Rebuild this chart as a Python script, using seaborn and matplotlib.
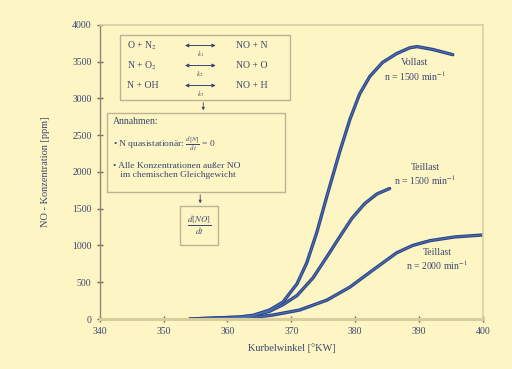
import numpy as np
import matplotlib
matplotlib.use("Agg")
import matplotlib.pyplot as plt
import pandas as pd
import seaborn as sns
from matplotlib.patches import Rectangle

# curves: crank angle [°KW] -> NO [ppm]
vollast_x = [354.1, 361.9, 364.0, 366.6, 368.7, 370.9, 372.4, 374.0, 375.6, 377.6, 379.2,
             380.7, 382.3, 384.3, 386.5, 388.6, 389.7, 392.2, 395.3]
vollast_y = [0, 27, 50, 122, 231, 480, 760, 1180, 1680, 2280, 2720,
             3060, 3300, 3490, 3610, 3690, 3705, 3665, 3595]

teil1500_x = [354.1, 361.9, 364.0, 366.6, 368.7, 370.9, 373.4, 375.6, 377.6, 379.5, 381.5,
              383.4, 385.4]
teil1500_y = [0, 25, 45, 105, 195, 320, 560, 850, 1120, 1370, 1570, 1700, 1775]

teil2000_x = [355.7, 364.6, 367.1, 371.3, 375.6, 379.2, 382.8, 386.5, 389.0, 391.7, 395.6, 400]
teil2000_y = [0, 27, 54, 122, 258, 435, 667, 900, 1000, 1065, 1116, 1143]

x_ticks = [340, 350, 360, 370, 380, 390, 400]
y_ticks = [0, 500, 1000, 1500, 2000, 2500, 3000, 3500, 4000]

reactions = [("O + N$_2$", "NO + N", "$k_1$"),
             ("N + O$_2$", "NO + O", "$k_2$"),
             ("N + OH", "NO + H", "$k_3$")]

curve_labels = ["Vollast\nn = 1500 min$^{-1}$",
                "Teillast\nn = 1500 min$^{-1}$",
                "Teillast\nn = 2000 min$^{-1}$"]

df = pd.concat([
    pd.DataFrame({"angle": vollast_x, "no": vollast_y, "case": curve_labels[0]}),
    pd.DataFrame({"angle": teil1500_x, "no": teil1500_y, "case": curve_labels[1]}),
    pd.DataFrame({"angle": teil2000_x, "no": teil2000_y, "case": curve_labels[2]}),
])

sns.set_theme(style="ticks")
plt.rcParams["font.family"] = ["Liberation Serif", "DejaVu Serif"]
plt.rcParams["mathtext.fontset"] = "stix"

bg = "#fdf5c4"
txt = "#3c4670"
fig = plt.figure(figsize=(5.12, 3.69), dpi=100, facecolor=bg)
ax = fig.add_axes([0.195, 0.1355, 0.748, 0.797], facecolor=bg)

# dark line with a slightly lighter core, like the shaded tubes in the original
sns.lineplot(data=df, x="angle", y="no", units="case", estimator=None,
             color="#2e4584", linewidth=2.4, legend=False, ax=ax)
sns.lineplot(data=df, x="angle", y="no", units="case", estimator=None,
             color="#4b70b6", linewidth=0.8, legend=False, ax=ax)
for ln in ax.lines:
    ln.set_solid_capstyle("round")
    ln.set_solid_joinstyle("round")

ax.set_xlim(340, 400)
ax.set_ylim(0, 4000)
ax.set_xticks(x_ticks)
ax.set_yticks(y_ticks)
ax.tick_params(axis="both", labelsize=7, colors="#6d6a5a", labelcolor=txt,
               direction="inout", length=5, width=1)
ax.set_xlabel("Kurbelwinkel [°KW]", fontsize=7.5, color=txt, labelpad=5)
ax.set_ylabel("NO - Konzentration [ppm]", fontsize=7.5, color=txt, labelpad=16)

for side in ["top", "right"]:
    ax.spines[side].set_color("#d8cfa6")
    ax.spines[side].set_linewidth(1.2)
ax.spines["bottom"].set_color("#d9cd9c")
ax.spines["bottom"].set_linewidth(2.2)
ax.spines["left"].set_color("#8d8a78")
ax.spines["left"].set_linewidth(1.0)

# curve labels
label_pos = [(0.822, 0.845), (0.85, 0.49), (0.88, 0.20)]
for lab, (lx, ly) in zip(curve_labels, label_pos):
    ax.text(lx, ly, lab, transform=ax.transAxes, ha="center", va="center",
            fontsize=7, color=txt, linespacing=1.15)

box_kw = dict(transform=ax.transAxes, fill=False, edgecolor="#b9b39a", linewidth=1.0)

# reaction box
ax.add_patch(Rectangle((0.052, 0.745), 0.445, 0.222, **box_kw))
for i, (lhs, rhs, k) in enumerate(reactions):
    yy = 0.93 - i * 0.068
    ax.text(0.07, yy, lhs, transform=ax.transAxes, fontsize=7, color=txt, va="center")
    ax.annotate("", xy=(0.31, yy), xytext=(0.215, yy), xycoords="axes fraction",
                arrowprops=dict(arrowstyle="<|-|>", color=txt, lw=0.7,
                                mutation_scale=5))
    ax.text(0.262, yy - 0.03, k, transform=ax.transAxes, fontsize=5, color=txt,
            ha="center", va="center")
    ax.text(0.355, yy, rhs, transform=ax.transAxes, fontsize=7, color=txt, va="center")
ax.annotate("", xy=(0.27, 0.70), xytext=(0.27, 0.745), xycoords="axes fraction",
            arrowprops=dict(arrowstyle="-|>", color=txt, lw=0.6, mutation_scale=4))

# assumptions box
ax.add_patch(Rectangle((0.018, 0.432), 0.465, 0.268, **box_kw))
ax.text(0.035, 0.67, "Annahmen:", transform=ax.transAxes, fontsize=7,
        color=txt, va="center")
ax.text(0.035, 0.595, "• N quasistationär: $\\frac{d[N]}{dt}$ = 0",
        transform=ax.transAxes, fontsize=6.8, color=txt, va="center")
ax.text(0.035, 0.505, "• Alle Konzentrationen außer NO\n   im chemischen Gleichgewicht",
        transform=ax.transAxes, fontsize=6.8, color=txt, va="center",
        linespacing=1.1)
ax.annotate("", xy=(0.262, 0.384), xytext=(0.262, 0.432), xycoords="axes fraction",
            arrowprops=dict(arrowstyle="-|>", color=txt, lw=0.6, mutation_scale=4))

# result box
ax.add_patch(Rectangle((0.209, 0.252), 0.1, 0.132, **box_kw))
ax.text(0.259, 0.318, "$\\frac{d[NO]}{dt}$", transform=ax.transAxes,
        fontsize=9, color=txt, ha="center", va="center")

fig.savefig("out.png", dpi=100, facecolor=bg)
